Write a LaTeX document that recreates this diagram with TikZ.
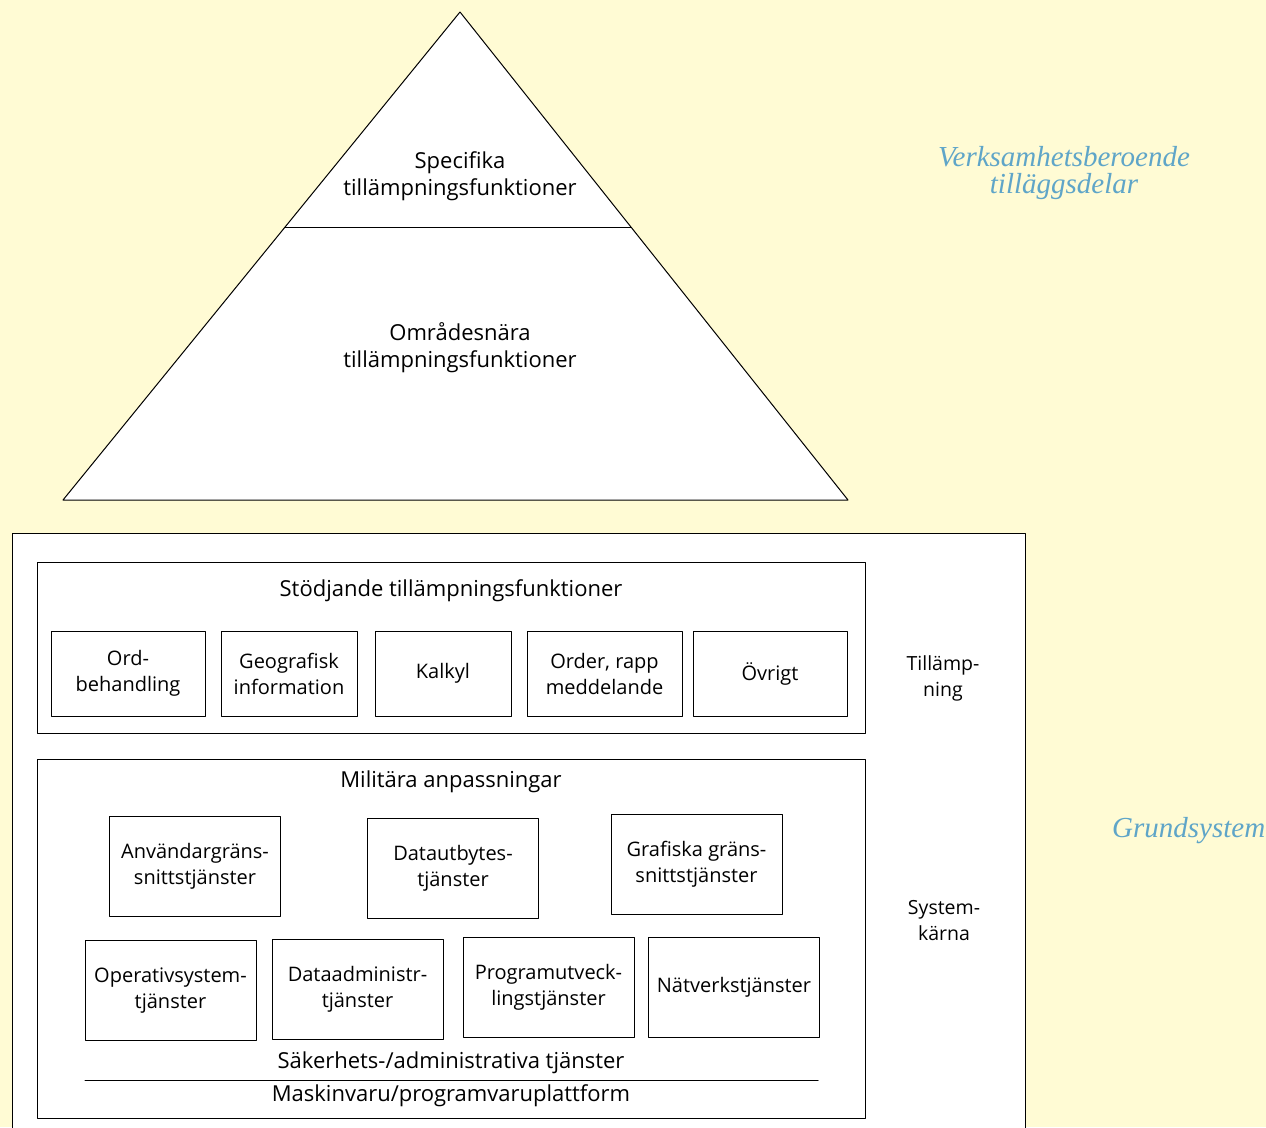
\documentclass[tikz,border=0pt]{standalone}
\usepackage{fontspec}
\setmainfont{Open Sans}
\newfontfamily\notefont{Liberation Serif}
\usetikzlibrary{positioning, calc}

\definecolor{bgcol}{RGB}{255,251,212}
\definecolor{notecol}{RGB}{95,165,200}

\begin{document}
\begin{tikzpicture}[x=1pt, y=-1pt, line cap=round, line join=round]

	%======================
	% STYLES
	%======================
	\tikzset{
		frame/.style={draw=black, line width=1pt, fill=white},
		txt/.style={align=center, inner sep=1pt, font=\fontsize{22}{27}\selectfont},
		side/.style={txt, font=\fontsize{19.5}{26}\selectfont},
		func/.style={draw=black, line width=1pt, fill=white, align=center,
			minimum width=171pt, minimum height=100pt, inner sep=2pt,
			font=\fontsize{20}{26}\selectfont},
		tool/.style={func, minimum width=154pt, minimum height=85pt},
		note/.style={align=center, text=notecol, inner sep=1pt,
			font=\notefont\itshape\fontsize{29}{27}\selectfont}
	}

	% background (paper)
	\fill[bgcol] (0,0) rectangle (1266,1127);
	\useasboundingbox (0,0) rectangle (1266,1127);

	%======================
	% PYRAMID
	%======================
	\coordinate (top) at (460,12);
	\coordinate (baseL) at (63,500);
	\coordinate (baseR) at (848,500);
	\draw[frame] (top) -- (baseR) -- (baseL) -- cycle;
	\draw[line width=1pt] ($(top)!0.4426!(baseL)$) -- ($(top)!0.4426!(baseR)$);

	\node[txt] (spec) at (460,176) {Specifika\\tillämpningsfunktioner};
	\node[txt] (omr) at (460,348) {Områdesnära\\tillämpningsfunktioner};

	\node[note] (verks) at (1064,173) {Verksamhetsberoende\\tilläggsdelar};

	%======================
	% GRUNDSYSTEM
	%======================
	\draw[frame] (12,533) rectangle (1025,1140);
	\node[note, anchor=west] (grund) at (1111,831) {Grundsystem};

	%----------------------
	% Tillämpning
	%----------------------
	\draw[frame] (37,562) rectangle (865,733);
	\node[txt] (stod) at (451,591) {Stödjande tillämpningsfunktioner};

	\node[tool] (ord) at (128,673.5) {Ord-\\behandling};
	\node[tool, minimum width=136pt] (geo) at (289,673.5) {Geografisk\\information};
	\node[tool, minimum width=136pt] (kalkyl) at (443,673.5) {Kalkyl};
	\node[tool, minimum width=155pt] (order) at (604.5,673.5) {Order, rapp\\meddelande};
	\node[tool] (ovrigt) at (770,673.5) {Övrigt};

	\node[side] (tillamp) at (943,678) {Tillämp-\\ning};

	%----------------------
	% Systemkärna
	%----------------------
	\draw[frame] (37,759) rectangle (865,1118);
	\node[txt] (milit) at (451,782) {Militära anpassningar};

	\node[func] (anv) at (195,866.5) {Användargräns-\\snittstjänster};
	\node[func] (datautb) at (453,868) {Datautbytes-\\tjänster};
	\node[func] (graf) at (696.5,864.5) {Grafiska gräns-\\snittstjänster};

	\node[func] (opsys) at (170.5,990.5) {Operativsystem-\\tjänster};
	\node[func] (dataadm) at (357.5,989.5) {Dataadministr-\\tjänster};
	\node[func] (progutv) at (548.5,987.5) {Programutveck-\\lingstjänster};
	\node[func] (natverk) at (734,987) {Nätverkstjänster};

	\node[txt] (saker) at (451,1063) {Säkerhets-/administrativa tjänster};
	\draw[line width=1pt] (85,1080) -- (818,1080);
	\node[txt] (maskin) at (451,1096) {Maskinvaru/programvaruplattform};

	\node[side] (karna) at (944,921) {System-\\kärna};

\end{tikzpicture}
\end{document}
